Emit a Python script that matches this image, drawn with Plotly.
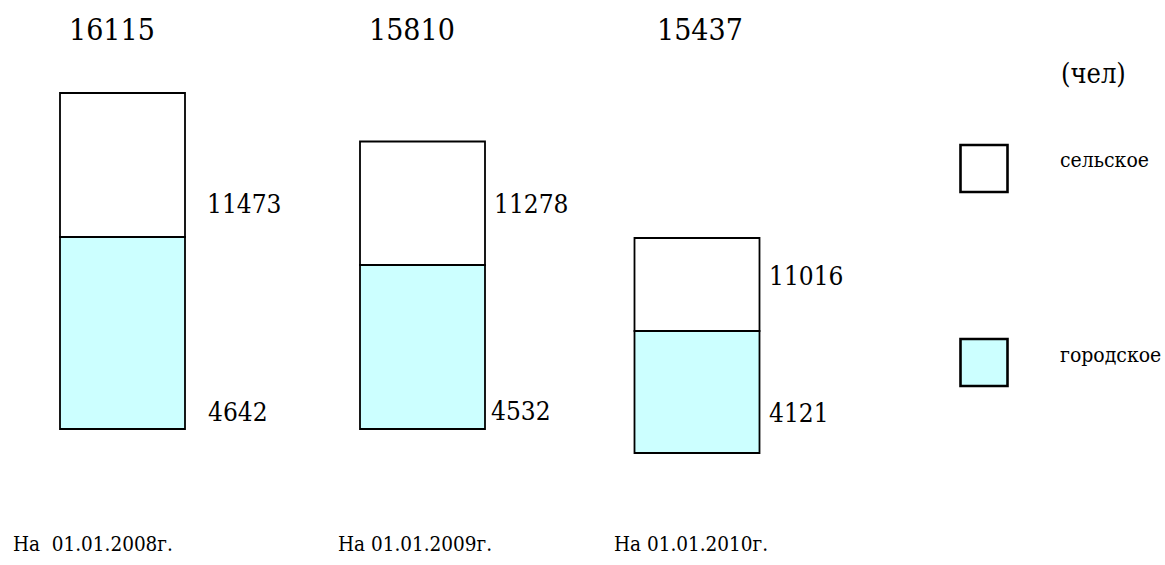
import plotly.graph_objects as go

# ---- data (as printed on the chart) ----
dates = ["На  01.01.2008г.", "На 01.01.2009г.", "На 01.01.2010г."]
total = [16115, 15810, 15437]
rural = [11473, 11278, 11016]   # сельское
urban = [4642, 4532, 4121]      # городское
unit_label = "(чел)"
legend_names = ["сельское", "городское"]

# ---- schematic drawing (the original diagram is not to scale) ----
# diagram units: level of bar foot, height of urban part, height of rural part
diagram_foot = [136, 136, 112]
diagram_urban = [192, 164, 122]
diagram_rural = [144, 123.5, 93]

bar_x = [122.5, 422.5, 697]
bar_w = 125
URBAN_COLOR = "#CCFFFF"
RURAL_COLOR = "#FFFFFF"
FONT = "DejaVu Serif Condensed"

fig = go.Figure()
urban_top = [f + u for f, u in zip(diagram_foot, diagram_urban)]

fig.add_trace(go.Bar(x=bar_x, y=diagram_urban, base=diagram_foot, width=bar_w,
                     marker=dict(color=URBAN_COLOR, line=dict(color="black", width=1.8)),
                     name=legend_names[1], hoverinfo="skip"))
fig.add_trace(go.Bar(x=bar_x, y=diagram_rural, base=urban_top, width=bar_w,
                     marker=dict(color=RURAL_COLOR, line=dict(color="black", width=1.8)),
                     name=legend_names[0], hoverinfo="skip"))
fig.add_trace(go.Scatter(x=[984, 984], y=[396.5, 202.5], mode="markers",
                         marker=dict(symbol="square", size=47,
                                     color=[RURAL_COLOR, URBAN_COLOR],
                                     line=dict(color="black", width=2.6)),
                         hoverinfo="skip", showlegend=False))

ann = []
total_x = [111.5, 411.5, 700]
for tx, t in zip(total_x, total):
    ann.append(dict(x=tx, y=536, text=str(t), showarrow=False, xanchor="center", yanchor="middle",
                    font=dict(size=30, family=FONT, color="black")))
rural_lx = [205, 492, 767]
rural_ly = [361, 361, 289]
for lx, ly, v in zip(rural_lx, rural_ly, rural):
    ann.append(dict(x=lx, y=ly, text=str(v), showarrow=False, xanchor="left", yanchor="middle",
                    font=dict(size=26, family=FONT, color="black")))
urban_lx = [206, 489, 767]
urban_ly = [153.5, 154, 152.5]
for lx, ly, v in zip(urban_lx, urban_ly, urban):
    ann.append(dict(x=lx, y=ly, text=str(v), showarrow=False, xanchor="left", yanchor="middle",
                    font=dict(size=26, family=FONT, color="black")))
date_x = [11, 336, 612]
for dx, d in zip(date_x, dates):
    ann.append(dict(x=dx, y=21, text=d, showarrow=False, xanchor="left", yanchor="middle",
                    font=dict(size=20.5, family=FONT, color="black")))
ann.append(dict(x=1059, y=492, text=unit_label, showarrow=False, xanchor="left", yanchor="middle",
                font=dict(size=27, family=FONT, color="black")))
ann.append(dict(x=1058, y=405, text=legend_names[0], showarrow=False, xanchor="left", yanchor="middle",
                font=dict(size=21, family=FONT, color="black")))
ann.append(dict(x=1058, y=210, text=legend_names[1], showarrow=False, xanchor="left", yanchor="middle",
                font=dict(size=21, family=FONT, color="black")))

fig.update_layout(
    width=1165, height=565,
    margin=dict(l=0, r=0, t=0, b=0),
    paper_bgcolor="white", plot_bgcolor="white",
    barmode="overlay", showlegend=False,
    xaxis=dict(range=[0, 1165], visible=False, fixedrange=True),
    yaxis=dict(range=[0, 565], visible=False, fixedrange=True),
    annotations=ann,
)

fig.write_html("out.html", config={"displayModeBar": False},
               post_script="document.body.style.margin='0px';document.body.style.overflow='hidden';")
